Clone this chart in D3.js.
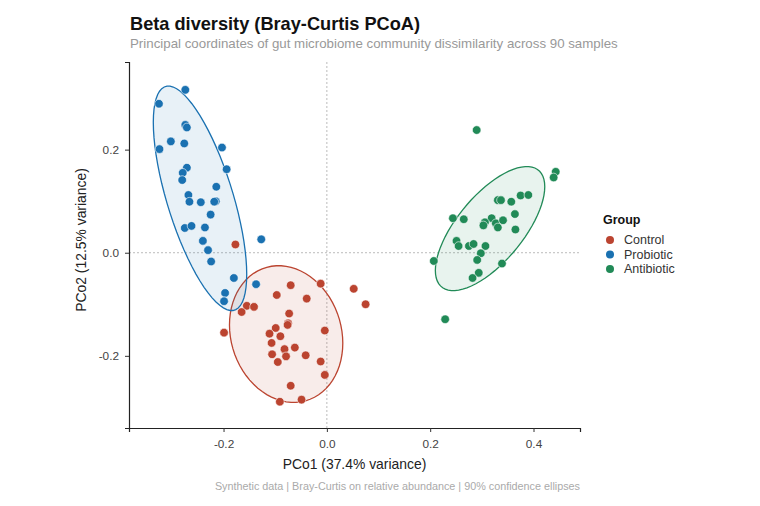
<!DOCTYPE html>
<html>
<head>
<meta charset="utf-8">
<script src="https://cdn.jsdelivr.net/npm/d3@7"></script>
<style>
  body { margin: 0; background: #fff; font-family: "Liberation Sans", Arial, sans-serif; }
</style>
</head>
<body>
<svg id="chart"></svg>
<script>
// groups and colours
const groups = ["Control", "Probiotic", "Antibiotic"];
const groupColors = ["#bb4430", "#1a71b1", "#218a57"];

// PCoA coordinates, one array per group
const controlPco1 = [-0.177, -0.070, -0.012, -0.097, -0.039, -0.155, -0.141, -0.165, -0.199, -0.073,
  -0.075, -0.076, -0.099, -0.111, -0.090, -0.107, -0.004, -0.082, -0.062, -0.106,
  -0.079, -0.041, -0.095, -0.012, -0.004, -0.070, -0.091, -0.049, 0.052, 0.075];
const controlPco2 = [0.016, -0.063, -0.060, -0.082, -0.089, -0.103, -0.105, -0.115, -0.155, -0.118,
  -0.137, -0.140, -0.146, -0.157, -0.162, -0.175, -0.151, -0.187, -0.184, -0.197,
  -0.201, -0.199, -0.212, -0.211, -0.237, -0.258, -0.289, -0.285, -0.070, -0.100];

const probioticPco1 = [-0.274, -0.325, -0.274, -0.271, -0.302, -0.276, -0.324, -0.203, -0.194, -0.271,
  -0.279, -0.280, -0.214, -0.268, -0.266, -0.244, -0.215, -0.218, -0.225, -0.275,
  -0.262, -0.236, -0.240, -0.230, -0.224, -0.127, -0.180, -0.137, -0.197, -0.199];
const probioticPco2 = [0.316, 0.289, 0.248, 0.243, 0.216, 0.212, 0.201, 0.204, 0.162, 0.165,
  0.155, 0.141, 0.128, 0.112, 0.099, 0.098, 0.100, 0.099, 0.074, 0.048,
  0.052, 0.049, 0.023, 0.005, -0.017, 0.026, -0.049, -0.061, -0.078, -0.094];

const antibioticPco1 = [0.290, 0.443, 0.439, 0.331, 0.337, 0.357, 0.375, 0.390, 0.364, 0.244,
  0.265, 0.319, 0.306, 0.303, 0.327, 0.341, 0.331, 0.365, 0.251, 0.255,
  0.275, 0.284, 0.307, 0.298, 0.291, 0.207, 0.339, 0.294, 0.282, 0.229];
const antibioticPco2 = [0.238, 0.157, 0.146, 0.102, 0.102, 0.099, 0.111, 0.112, 0.075, 0.067,
  0.065, 0.067, 0.059, 0.053, 0.057, 0.063, 0.049, 0.045, 0.023, 0.013,
  0.013, 0.017, 0.013, -0.001, -0.014, -0.016, -0.021, -0.039, -0.049, -0.129];

const xTicks = [-0.2, 0.0, 0.2, 0.4];
const yTicks = [-0.2, 0.0, 0.2];

const pco1 = [controlPco1, probioticPco1, antibioticPco1];
const pco2 = [controlPco2, probioticPco2, antibioticPco2];

const samples = [];
groups.forEach((g, gi) => {
  pco1[gi].forEach((v, i) => samples.push({ group: g, x: v, y: pco2[gi][i] }));
});

// Set up the SVG
const W = 760, H = 506;
const margin = { top: 62, right: 180, bottom: 78, left: 129 };
const width = W - margin.left - margin.right;
const height = H - margin.top - margin.bottom;

const svg = d3.select("#chart").attr("width", W).attr("height", H);
const g = svg.append("g").attr("transform", `translate(${margin.left},${margin.top})`);

const xScale = d3.scaleLinear().domain([-0.383, 0.490]).range([0, width]);
const yScale = d3.scaleLinear().domain([-0.340, 0.370]).range([height, 0]);
const color = d3.scaleOrdinal().domain(groups).range(groupColors);

// reference lines at 0
g.append("line")
  .attr("x1", xScale(0)).attr("x2", xScale(0))
  .attr("y1", 0).attr("y2", height)
  .attr("stroke", "#aaa").attr("stroke-width", 0.8).attr("stroke-dasharray", "2,2");
g.append("line")
  .attr("x1", 0).attr("x2", width)
  .attr("y1", yScale(0)).attr("y2", yScale(0))
  .attr("stroke", "#aaa").attr("stroke-width", 0.8).attr("stroke-dasharray", "2,2");

// robust t covariance (like MASS::cov.trob, nu = 5)
function covTrob(xs, ys) {
  const n = xs.length, nu = 5, p = 2;
  let w = xs.map(() => 1);
  let mx = d3.mean(xs), my = d3.mean(ys);
  let sxx, syy, sxy;
  for (let iter = 0; iter < 200; iter++) {
    const sw = d3.sum(w);
    sxx = 0; syy = 0; sxy = 0;
    for (let i = 0; i < n; i++) {
      const dx = xs[i] - mx, dy = ys[i] - my;
      sxx += w[i] * dx * dx; syy += w[i] * dy * dy; sxy += w[i] * dx * dy;
    }
    sxx /= sw; syy /= sw; sxy /= sw;
    const det = sxx * syy - sxy * sxy;
    const w0 = w;
    w = xs.map((x, i) => {
      const dx = x - mx, dy = ys[i] - my;
      const q = (syy * dx * dx - 2 * sxy * dx * dy + sxx * dy * dy) / det;
      return (nu + p) / (nu + q);
    });
    const sw2 = d3.sum(w);
    mx = d3.sum(xs, (x, i) => w[i] * x) / sw2;
    my = d3.sum(ys, (y, i) => w[i] * y) / sw2;
    if (d3.max(w, (v, i) => Math.abs(v - w0[i])) < 1e-4) break;
  }
  sxx = 0; syy = 0; sxy = 0;
  for (let i = 0; i < n; i++) {
    const dx = xs[i] - mx, dy = ys[i] - my;
    sxx += w[i] * dx * dx; syy += w[i] * dy * dy; sxy += w[i] * dx * dy;
  }
  return { mx, my, sxx: sxx / n, syy: syy / n, sxy: sxy / n };
}

// 90% confidence ellipse (t-based scaling like stat_ellipse)
function ellipsePoints(xs, ys, level) {
  const n = xs.length;
  const { mx, my, sxx, syy, sxy } = covTrob(xs, ys);
  const d2 = n - 1;
  const fq = (d2 / 2) * (Math.pow(1 - level, -2 / d2) - 1);
  const r = Math.sqrt(2 * fq);
  // cholesky of covariance
  const a = Math.sqrt(sxx), b = sxy / a, c = Math.sqrt(syy - b * b);
  const pts = [];
  for (let k = 0; k < 72; k++) {
    const t = (k / 72) * 2 * Math.PI;
    const u = Math.cos(t), v = Math.sin(t);
    pts.push([mx + r * a * u, my + r * (b * u + c * v)]);
  }
  return pts;
}

const ellipseLine = d3.line()
  .x(d => xScale(d[0]))
  .y(d => yScale(d[1]))
  .curve(d3.curveLinearClosed);

groups.forEach((grp, gi) => {
  g.append("path")
    .attr("d", ellipseLine(ellipsePoints(pco1[gi], pco2[gi], 0.9)))
    .attr("fill", groupColors[gi])
    .attr("fill-opacity", 0.1)
    .attr("stroke", groupColors[gi])
    .attr("stroke-width", 1.3);
});

// points
g.selectAll(".dot")
  .data(samples)
  .enter()
  .append("circle")
  .attr("class", "dot")
  .attr("cx", d => xScale(d.x))
  .attr("cy", d => yScale(d.y))
  .attr("r", 4.3)
  .attr("fill", d => color(d.group))
  .attr("stroke", "#fff")
  .attr("stroke-width", 0.6);

// axes
const xAxis = g.append("g")
  .attr("transform", `translate(0,${height})`)
  .call(d3.axisBottom(xScale).tickValues(xTicks).tickFormat(d3.format(".1f")).tickSizeOuter(0).tickSize(4).tickPadding(8));
const yAxis = g.append("g")
  .call(d3.axisLeft(yScale).tickValues(yTicks).tickFormat(d3.format(".1f")).tickSizeOuter(0).tickSize(4).tickPadding(6));

[xAxis, yAxis].forEach(ax => {
  ax.select(".domain").attr("stroke", "#222").attr("stroke-width", 1.2);
  ax.selectAll(".tick line").attr("stroke", "#333");
  ax.selectAll(".tick text")
    .attr("fill", "#444")
    .style("font-family", "Liberation Sans, Arial, sans-serif")
    .style("font-size", "11.8px")
    .text(function () { return this.textContent.replace("−", "-"); });
});

// axis titles
g.append("text")
  .attr("x", width / 2).attr("y", height + 41)
  .attr("text-anchor", "middle")
  .attr("fill", "#222")
  .style("font-size", "13.9px")
  .text("PCo1 (37.4% variance)");

g.append("text")
  .attr("transform", "rotate(-90)")
  .attr("x", -height / 2 + 5).attr("y", -43)
  .attr("text-anchor", "middle")
  .attr("fill", "#222")
  .style("font-size", "13.9px")
  .text("PCo2 (12.5% variance)");

// title, subtitle, caption
svg.append("text")
  .attr("x", 130).attr("y", 30)
  .attr("fill", "#111")
  .style("font-size", "18.2px")
  .style("font-weight", "bold")
  .text("Beta diversity (Bray-Curtis PCoA)");

svg.append("text")
  .attr("x", 130).attr("y", 48)
  .attr("fill", "#999")
  .style("font-size", "13.3px")
  .text("Principal coordinates of gut microbiome community dissimilarity across 90 samples");

svg.append("text")
  .attr("x", 580).attr("y", 490)
  .attr("text-anchor", "end")
  .attr("fill", "#aaa")
  .style("font-size", "10.8px")
  .text("Synthetic data | Bray-Curtis on relative abundance | 90% confidence ellipses");

// legend
const legend = svg.append("g").attr("transform", "translate(603,224)");
legend.append("text")
  .attr("x", 0).attr("y", 0)
  .attr("fill", "#111")
  .style("font-size", "12.5px")
  .style("font-weight", "bold")
  .text("Group");

const items = legend.selectAll(".legend-item")
  .data(groups)
  .enter()
  .append("g")
  .attr("class", "legend-item")
  .attr("transform", (d, i) => `translate(0,${16 + i * 14.5})`);

items.append("circle")
  .attr("cx", 7).attr("cy", 0).attr("r", 4)
  .attr("fill", d => color(d));

items.append("text")
  .attr("x", 21).attr("y", 4.3)
  .attr("fill", "#333")
  .style("font-size", "12.5px")
  .text(d => d);
</script>
</body>
</html>
